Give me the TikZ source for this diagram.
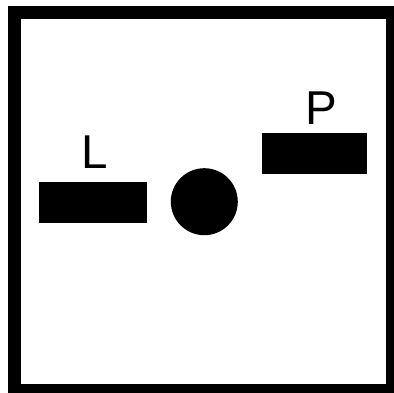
\documentclass[tikz,border=0pt]{standalone}
\usepackage{fontspec}
\setmainfont{Liberation Sans}
\begin{document}
\begin{tikzpicture}[x=1pt,y=-1pt,
  bar/.style={fill=black,draw=none},
  lbl/.style={inner sep=0pt,anchor=base,font=\fontsize{47.5}{50}\selectfont}]
\useasboundingbox (0,0) rectangle (394,393);
\begin{scope}
\clip (0,0) rectangle (394,393);
\draw[line width=13pt] (14.5,12.5) rectangle (392.5,390.5);
\end{scope}
\node[bar,minimum width=108pt,minimum height=41pt,inner sep=0pt] (lbar) at (93,202.5) {};
\node[bar,minimum width=105pt,minimum height=41pt,inner sep=0pt] (pbar) at (314.5,153.8) {};
\node[circle,fill=black,minimum size=67pt,inner sep=0pt] (dot) at (204.3,201.7) {};
\node[lbl] (L) at (94.7,169) {L};
\node[lbl] (P) at (321,125) {P};
\end{tikzpicture}
\end{document}
